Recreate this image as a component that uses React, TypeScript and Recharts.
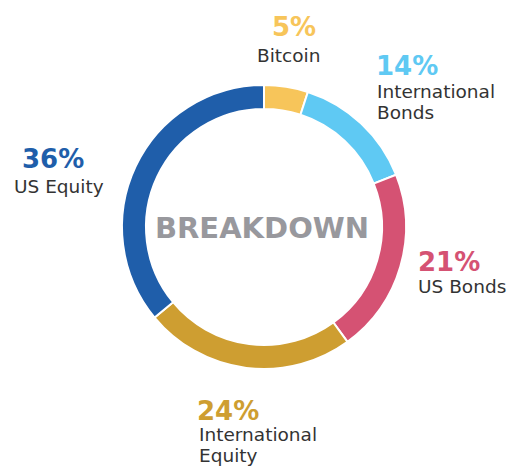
import { PieChart, Pie, Cell } from "recharts";

const categories = ["Bitcoin", "International Bonds", "US Bonds", "International Equity", "US Equity"];
const shares = [5, 14, 21, 24, 36];
const colors = ["#F7C55A", "#5FC9F3", "#D55273", "#CE9E31", "#1F5EAA"];
const labelLines = [["Bitcoin"], ["International", "Bonds"], ["US Bonds"], ["International", "Equity"], ["US Equity"]];

// label block placement for each slice
const labelSpots = [
  { px: 272, py: 36, tx: 257, ty: [62] },
  { px: 376, py: 75, tx: 377, ty: [98, 119] },
  { px: 418, py: 271, tx: 418, ty: [293] },
  { px: 197, py: 420, tx: 199, ty: [441, 462] },
  { px: 22, py: 168, tx: 14, ty: [193] },
];

const data = categories.map((name, i) => ({ name, value: shares[i] }));

export default function App() {
  return (
    <div style={{ position: "absolute", left: 0, top: 0, background: "#fff" }}>
      <PieChart width={511} height={466} margin={{ top: 0, right: 0, bottom: 0, left: 0 }}>
        <Pie
          data={data}
          dataKey="value"
          cx={264}
          cy={227}
          innerRadius={118}
          outerRadius={142}
          startAngle={90}
          endAngle={-270}
          stroke="#fff"
          strokeWidth={2}
          isAnimationActive={false}
        >
          {data.map((d, i) => (
            <Cell key={d.name} fill={colors[i]} />
          ))}
        </Pie>
        <text
          x={262}
          y={238}
          textAnchor="middle"
          fontFamily="DejaVu Sans"
          fontWeight="bold"
          fontSize={29}
          fill="#98989D"
        >
          BREAKDOWN
        </text>
        {data.map((d, i) => {
          const s = labelSpots[i];
          return (
            <g key={d.name}>
              <text x={s.px} y={s.py} fontFamily="DejaVu Sans" fontWeight="bold" fontSize={26} fill={colors[i]}>
                {d.value}%
              </text>
              {labelLines[i].map((line, j) => (
                <text key={line} x={s.tx} y={s.ty[j]} fontFamily="DejaVu Sans" fontSize={18.5} fill="#333">
                  {line}
                </text>
              ))}
            </g>
          );
        })}
      </PieChart>
    </div>
  );
}
